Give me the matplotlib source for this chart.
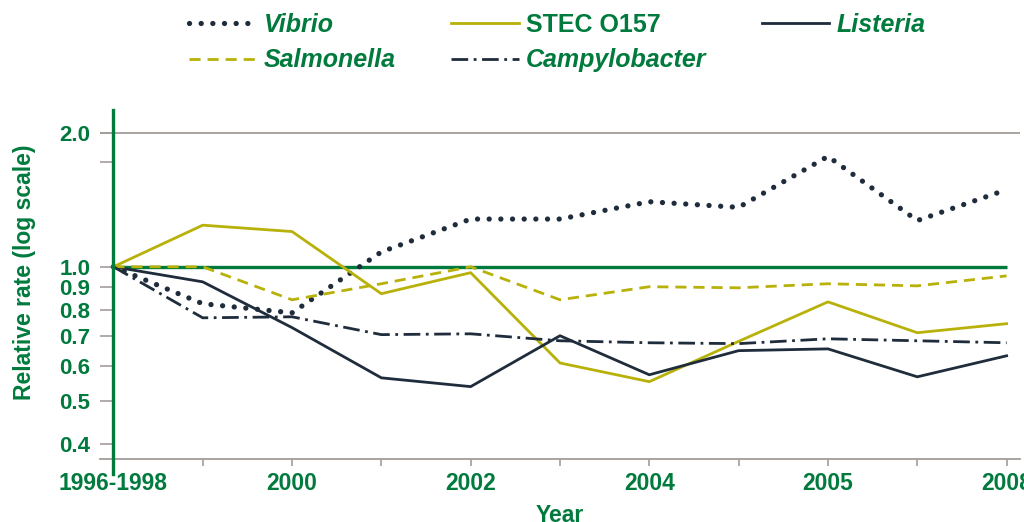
import matplotlib.pyplot as plt
from matplotlib.ticker import FixedLocator, FixedFormatter, NullLocator

# data (relative rate vs 1996-1998 baseline)
periods = list(range(11))
x_tick_labels = ["1996-1998", "", "2000", "", "2002", "", "2004", "", "2005", "", "2008"]

vibrio = [1.0, 0.826, 0.788, 1.08, 1.28, 1.28, 1.40, 1.36, 1.77, 1.27, 1.49]
stec_o157 = [1.0, 1.24, 1.20, 0.87, 0.97, 0.608, 0.552, 0.68, 0.834, 0.711, 0.745]
listeria = [1.0, 0.925, 0.73, 0.563, 0.538, 0.70, 0.572, 0.648, 0.654, 0.566, 0.631]
salmonella = [1.0, 1.0, 0.843, 0.916, 1.0, 0.843, 0.902, 0.897, 0.916, 0.906, 0.954]
campylobacter = [1.0, 0.768, 0.772, 0.704, 0.707, 0.682, 0.675, 0.672, 0.689, 0.682, 0.675]

y_ticks = [0.4, 0.5, 0.6, 0.7, 0.8, 0.9, 1.0, 1.72, 2.0]
y_tick_labels = ["0.4", "0.5", "0.6", "0.7", "0.8", "0.9", "1.0", "", "2.0"]

GREEN = "#007a3d"
NAVY = "#1f2c3c"
OLIVE = "#b8b10a"
GRAY = "#a39d99"

plt.rcParams["font.family"] = ["Liberation Sans", "DejaVu Sans"]
plt.rcParams["font.weight"] = "bold"

fig = plt.figure(figsize=(10.24, 5.22), dpi=100)
ax = fig.add_axes([100 / 1024, 1 - 459 / 522, 920 / 1024, 349 / 522])
ax.set_yscale("log")

# reference lines
ax.axhline(2.0, color=GRAY, lw=1.3, zorder=1)
ax.hlines(1.0, 0, 10, color=GREEN, lw=2.4, zorder=1)

lines = {}
lines["Vibrio"] = ax.plot(periods, vibrio, color=NAVY, lw=3.8, linestyle=(0, (0.01, 2.2)),
                          dash_capstyle="round", zorder=3)[0]
lines["STEC O157"] = ax.plot(periods, stec_o157, color=OLIVE, lw=2.0, zorder=3)[0]
lines["Listeria"] = ax.plot(periods, listeria, color=NAVY, lw=2.0, zorder=3)[0]
lines["Salmonella"] = ax.plot(periods, salmonella, color=OLIVE, lw=2.0,
                              linestyle=(0, (4, 2.5)), zorder=3)[0]
lines["Campylobacter"] = ax.plot(periods, campylobacter, color=NAVY, lw=2.0,
                                 linestyle=(0, (6, 2, 1, 2)), zorder=3)[0]

ax.set_xlim(-0.15, 10.15)
ax.set_ylim(0.37, 2.25)

ax.spines["top"].set_visible(False)
ax.spines["right"].set_visible(False)
ax.spines["left"].set_position(("data", 0))
ax.spines["left"].set_color(GREEN)
ax.spines["left"].set_linewidth(2.4)
ax.spines["left"].set_bounds(0.342, 2.25)
ax.spines["left"].set_zorder(4)
ax.spines["bottom"].set_color(GRAY)
ax.spines["bottom"].set_linewidth(1.3)

ax.xaxis.set_major_locator(FixedLocator(periods))
ax.xaxis.set_major_formatter(FixedFormatter(x_tick_labels))
ax.yaxis.set_major_locator(FixedLocator(y_ticks))
ax.yaxis.set_major_formatter(FixedFormatter(y_tick_labels))
ax.yaxis.set_minor_locator(NullLocator())
ax.xaxis.set_minor_locator(NullLocator())

ax.tick_params(axis="y", length=9.5, width=1.2, color=GRAY, pad=7,
               labelsize=16, labelcolor=GREEN)
ax.tick_params(axis="x", length=5, width=1.2, color=GRAY, pad=4,
               labelsize=16.5, labelcolor=GREEN)

ax.set_ylabel("Relative rate (log scale)", color=GREEN, fontsize=16.5, fontweight="bold")
ax.yaxis.set_label_coords(-0.07, 0.536)
ax.set_xlabel("Year", color=GREEN, fontsize=16.5, fontweight="bold")
ax.xaxis.set_label_coords(0.5, -0.13)

# column-wise fill so rows read Vibrio / STEC / Listeria, then Salmonella / Campylobacter
legend_order = ["Vibrio", "Salmonella", "STEC O157", "Campylobacter", "Listeria"]
leg = fig.legend([lines[k] for k in legend_order], legend_order,
                 loc="upper left", bbox_to_anchor=(189 / 1024, 1 - 13 / 522),
                 ncol=3, frameon=False, fontsize=18, handlelength=2.7,
                 handletextpad=0.3, columnspacing=2.2, labelspacing=0.45,
                 borderpad=0, borderaxespad=0)
for text in leg.get_texts():
    text.set_color(GREEN)
    text.set_fontweight("bold")
    if text.get_text() != "STEC O157":
        text.set_fontstyle("italic")

fig.savefig("out.png", dpi=100)
